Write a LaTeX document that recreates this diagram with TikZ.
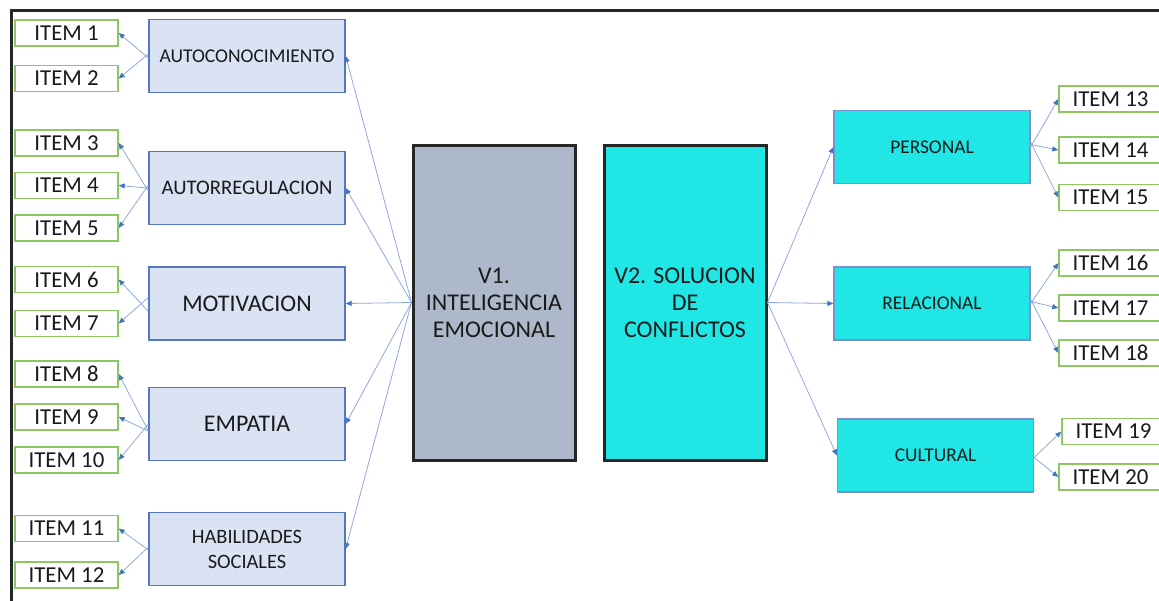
\documentclass[tikz,border=0pt]{standalone}
\usepackage{fontspec}
\setmainfont{Carlito}
\usetikzlibrary{arrows.meta}
\definecolor{itemgreen}{HTML}{8CC862}
\definecolor{boxblue}{HTML}{DAE3F3}
\definecolor{boxedge}{HTML}{5677C0}
\definecolor{vone}{HTML}{ADB9CA}
\definecolor{cyanfill}{HTML}{21E6E6}
\definecolor{arrline}{HTML}{8DA9DD}
\definecolor{arrtip}{HTML}{4472C4}
\definecolor{txt}{HTML}{1A1A1A}
\tikzset{
  itembox/.style={draw=itemgreen, line width=1.4pt, fill=white, text=txt, minimum width=103pt, minimum height=26pt, inner sep=0pt, font=\fontsize{22.8}{26}\selectfont},
  dimbox/.style={draw=boxedge, line width=1.3pt, fill=boxblue, text=txt, minimum width=196pt, minimum height=73pt, inner sep=0pt, align=center},
  varbox/.style={draw=black!85, line width=3pt, text=txt, minimum width=162pt, minimum height=315pt, inner sep=0pt, align=center, font=\fontsize{24}{27}\selectfont},
  rbox/.style={draw=boxedge!80, line width=1.3pt, fill=cyanfill, text=txt, minimum width=196pt, minimum height=73pt, inner sep=0pt, align=center, font=\fontsize{19.4}{23}\selectfont},
  conn/.style={draw=arrline, line width=0.8pt, -{Triangle[length=6pt,width=5pt,color=arrtip]}},
}
\begin{document}
\begin{tikzpicture}[x=1pt,y=-1pt]
\useasboundingbox (0,0) rectangle (1159,600);
% frame
\draw[line width=3pt, black!85] (11,605) -- (11,10) -- (1165,10);
% left items
\node[itembox] (i1) at (66.5,33) {ITEM 1};
\node[itembox] (i2) at (66.5,78.5) {ITEM 2};
\node[itembox] (i3) at (66.5,143) {ITEM 3};
\node[itembox] (i4) at (66.5,185.5) {ITEM 4};
\node[itembox] (i5) at (66.5,228) {ITEM 5};
\node[itembox] (i6) at (66.5,279.5) {ITEM 6};
\node[itembox] (i7) at (66.5,323.5) {ITEM 7};
\node[itembox] (i8) at (66.5,374) {ITEM 8};
\node[itembox] (i9) at (66.5,417) {ITEM 9};
\node[itembox] (i10) at (66.5,460) {ITEM 10};
\node[itembox] (i11) at (66.5,528.5) {ITEM 11};
\node[itembox] (i12) at (66.5,575) {ITEM 12};
% dimension boxes
\node[dimbox, font=\fontsize{19.5}{23}\selectfont] (d1) at (247,56) {AUTOCONOCIMIENTO};
\node[dimbox, font=\fontsize{20.7}{24}\selectfont] (d2) at (247,188) {AUTORREGULACION};
\node[dimbox, font=\fontsize{23.9}{28}\selectfont] (d3) at (247,303.5) {MOTIVACION};
\node[dimbox, font=\fontsize{23.9}{28}\selectfont] (d4) at (247,424) {EMPATIA};
\node[dimbox, font=\fontsize{20.4}{25}\selectfont] (d5) at (247,549) {HABILIDADES\\SOCIALES};
% variables
\node[varbox, fill=vone] (v1) at (494,302.5) {V1.\\INTELIGENCIA\\EMOCIONAL};
\node[varbox, fill=cyanfill] (v2) at (685,302.5) {V2. SOLUCION\\DE\\CONFLICTOS};
% right dimension boxes
\node[rbox] (r1) at (932,147) {PERSONAL};
\node[rbox] (r2) at (932,303.5) {RELACIONAL};
\node[rbox] (r3) at (935.5,455.5) {CULTURAL};
% right items
\node[itembox] (i13) at (1110.5,99) {ITEM 13};
\node[itembox] (i14) at (1110.5,150) {ITEM 14};
\node[itembox] (i15) at (1110.5,197.5) {ITEM 15};
\node[itembox] (i16) at (1110.5,263) {ITEM 16};
\node[itembox] (i17) at (1110.5,308) {ITEM 17};
\node[itembox] (i18) at (1110.5,353) {ITEM 18};
\node[itembox] (i19) at (1113.5,431.5) {ITEM 19};
\node[itembox] (i20) at (1110.5,477) {ITEM 20};
% V1 -> dimensions
\foreach \d in {d1,d2,d3,d4,d5} \draw[conn] (v1.west) -- (\d.east);
% dimensions -> items
\draw[conn] ([yshift=-2pt]d1.west) -- (i1.east);
\draw[conn] ([yshift=2pt]d1.west) -- (i2.east);
\draw[conn] ([yshift=-3pt]d2.west) -- (i3.east);
\draw[conn] (d2.west) -- (i4.east);
\draw[conn] ([yshift=3pt]d2.west) -- (i5.east);
\draw[conn] ([yshift=-8pt]d3.west) -- (i6.east);
\draw[conn] ([yshift=6pt]d3.west) -- (i7.east);
\draw[conn] ([yshift=-7pt]d4.west) -- (i8.east);
\draw[conn] ([yshift=-7pt]d4.west) -- (i9.east);
\draw[conn] ([yshift=0pt]d4.west) -- (i10.east);
\draw[conn] ([yshift=-1pt]d5.west) -- (i11.east);
\draw[conn] ([yshift=2pt]d5.west) -- (i12.east);
% V2 -> right dimensions
\foreach \r in {r1,r2,r3} \draw[conn] (v2.east) -- (\r.west);
% right dimensions -> items
\draw[conn] (r1.east) -- (i13.west);
\draw[conn] ([xshift=-3pt,yshift=3pt]r1.east) -- (i14.west);
\draw[conn] ([yshift=5pt]r1.east) -- (i15.west);
\draw[conn] (r2.east) -- (i16.west);
\draw[conn] ([yshift=2pt]r2.east) -- (i17.west);
\draw[conn] ([yshift=4pt]r2.east) -- (i18.west);
\draw[conn] ([yshift=-2pt]r3.east) -- (i19.west);
\draw[conn] ([yshift=-2pt]r3.east) -- (i20.west);
\end{tikzpicture}
\end{document}
